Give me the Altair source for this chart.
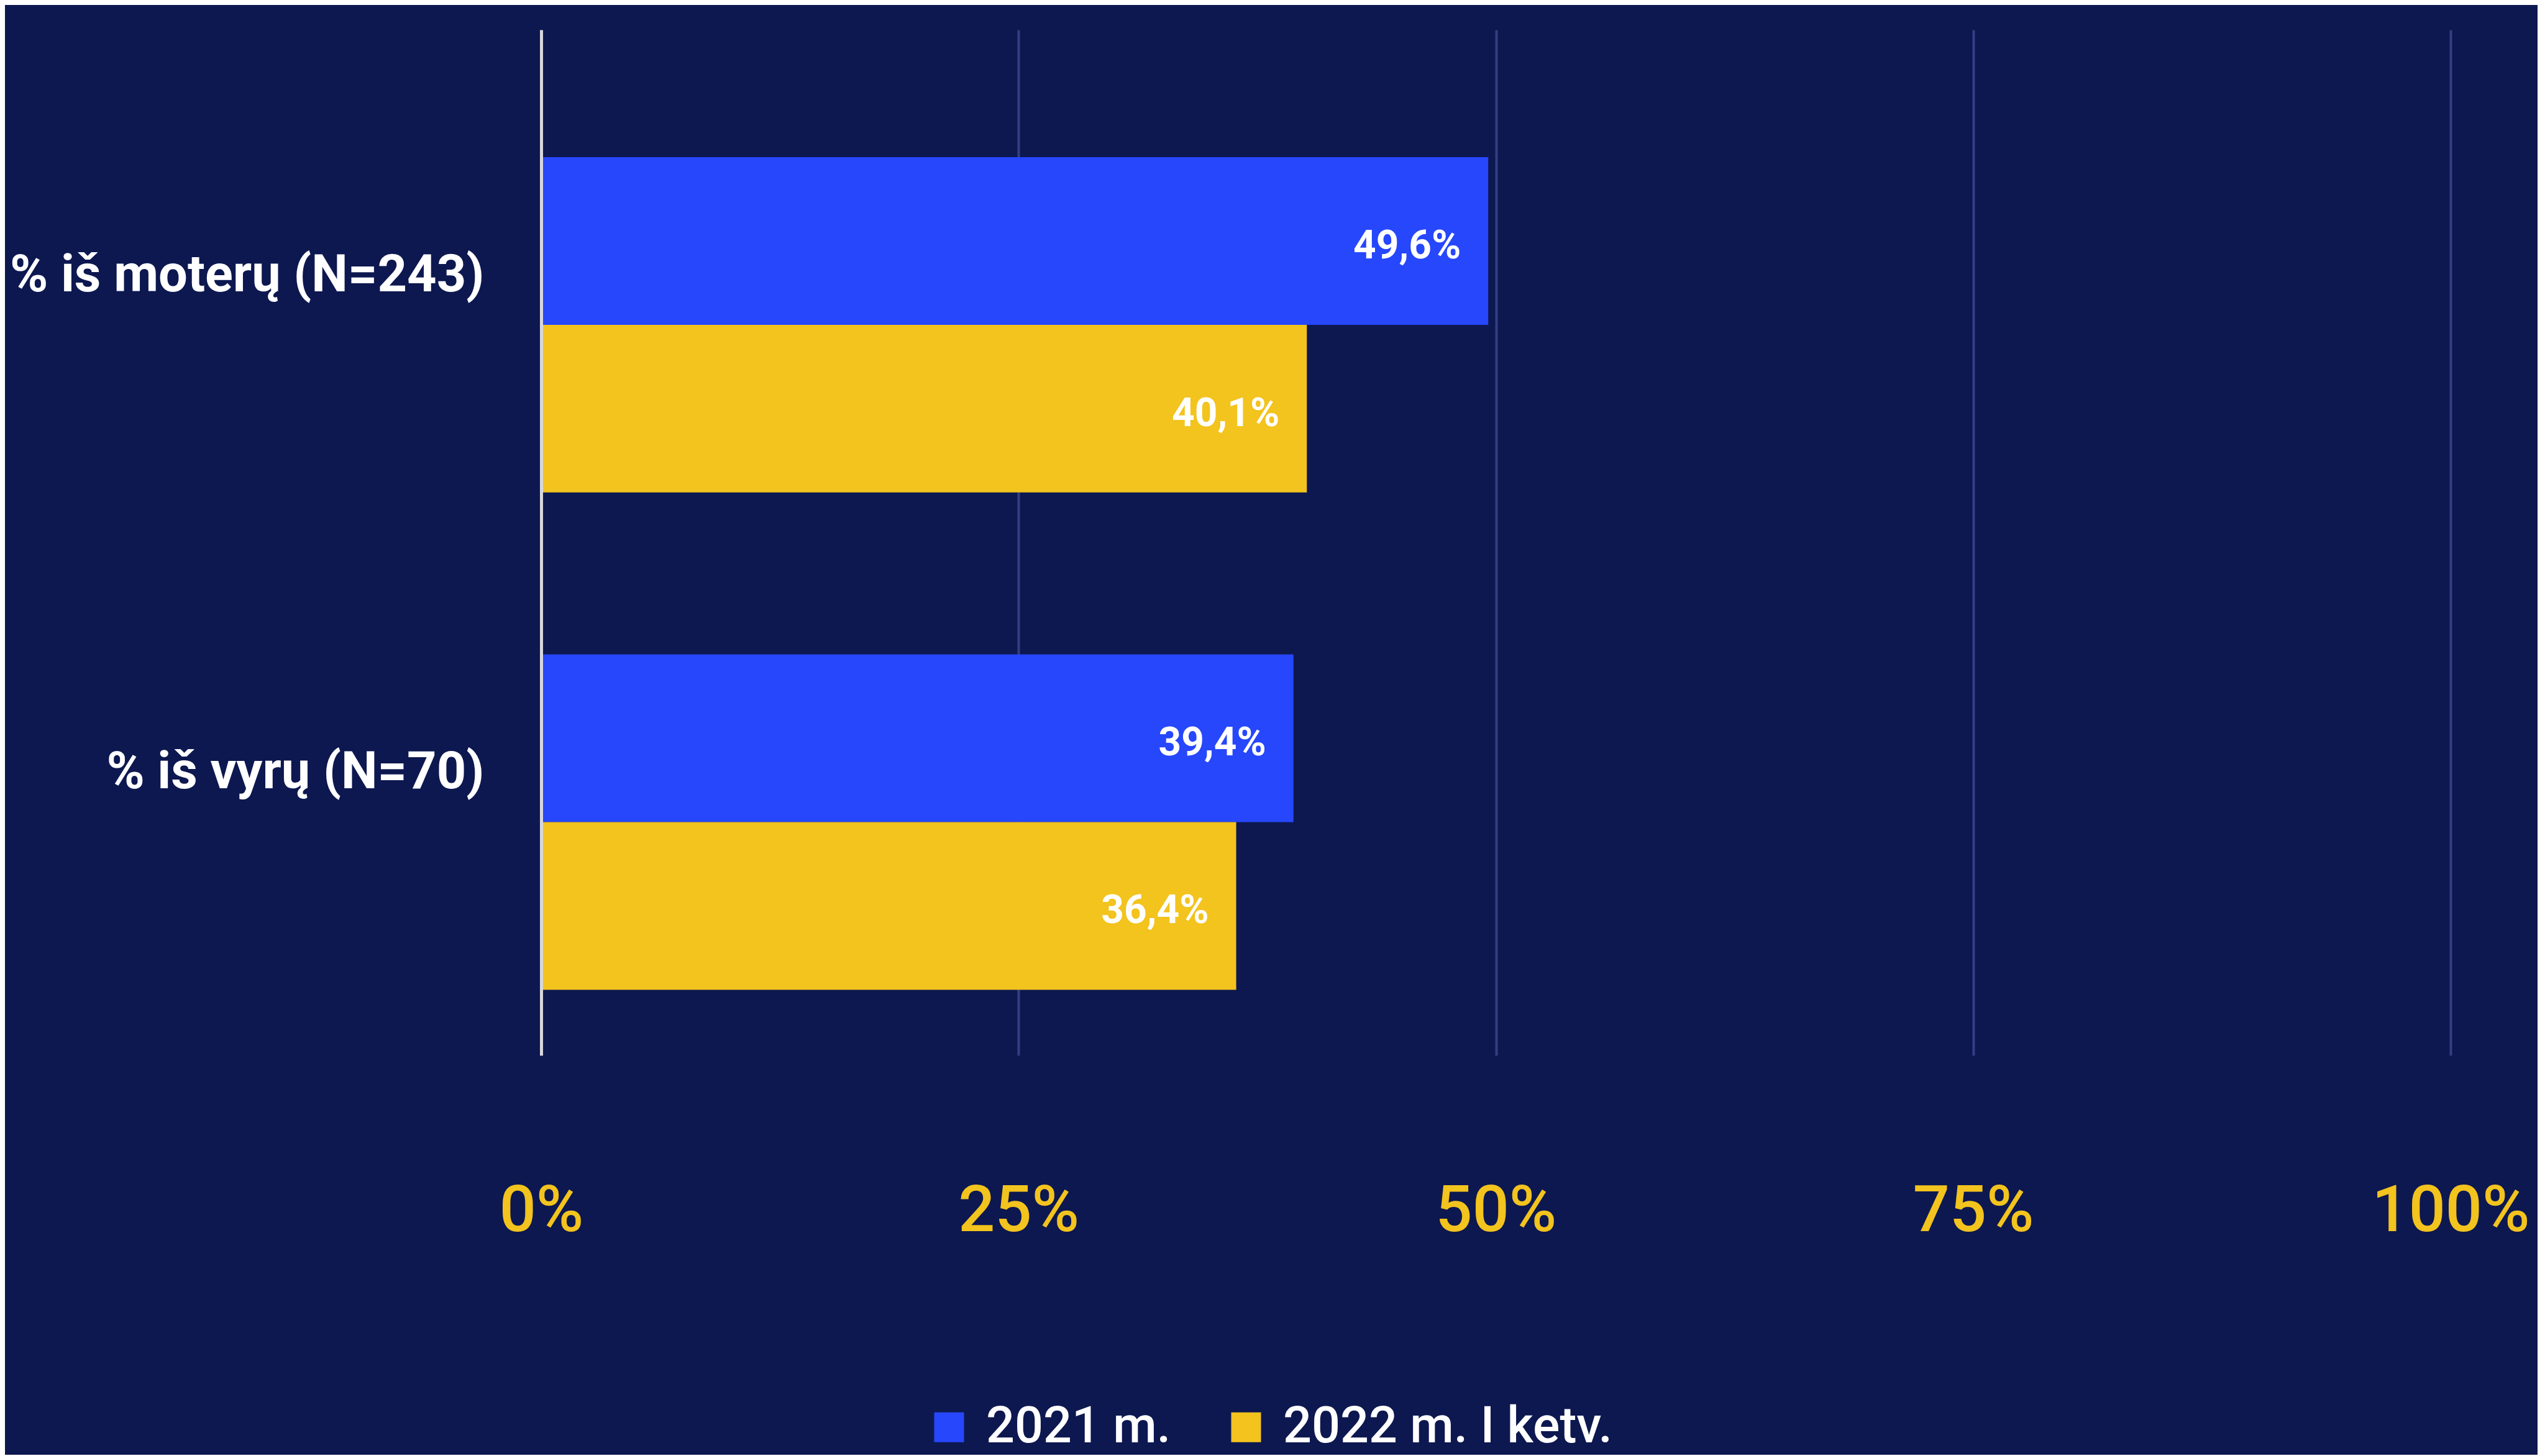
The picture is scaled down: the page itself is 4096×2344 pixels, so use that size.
import altair as alt
import pandas as pd

# ---- data ----
categories = ["% iš moterų (N=243)", "% iš vyrų (N=70)"]
series = ["2021 m.", "2022 m. I ketv."]
values_2021 = [49.6, 39.4]
values_2022 = [40.1, 36.4]
x_ticks = [0, 25, 50, 75, 100]
colors = ["#2647fc", "#f3c31e"]

rows = []
for s, vals in zip(series, [values_2021, values_2022]):
    for c, v in zip(categories, vals):
        rows.append({
            "cat": c,
            "series": s,
            "value": v,
            "label": f"{v:.1f}".replace(".", ",") + "%",
        })
df = pd.DataFrame(rows)

FONT = "Roboto"
W, H = 3073, 1651

y_scale = alt.Scale(paddingInner=0.3256, paddingOuter=0.194, align=0.66)
yoff_scale = alt.Scale(paddingInner=0, paddingOuter=0)

y_enc = alt.Y(
    "cat:N",
    sort=categories,
    scale=y_scale,
    axis=alt.Axis(
        title=None,
        domain=True,
        domainColor="#d6d6de",
        domainWidth=5,
        ticks=False,
        tickSize=0,
        grid=False,
        labelPadding=92,
        labelOffset=-79,
        labelFont=FONT,
        labelFontSize=83,
        labelFontWeight="bold",
        labelColor="#ffffff",
        labelLimit=2000,
        zindex=1,
    ),
)

x_enc = alt.X(
    "value:Q",
    scale=alt.Scale(domain=[0, 100], nice=False, zero=True),
    axis=alt.Axis(
        title=None,
        values=x_ticks,
        labelExpr="datum.value + '%'",
        domain=False,
        ticks=False,
        tickSize=0,
        labelPadding=282,
        labelBaseline="alphabetic",
        labelFlush=False,
        labelOverlap=False,
        labelLimit=2000,
        labelFont=FONT,
        labelFontSize=104,
        labelFontWeight=500,
        labelColor="#f3c31e",
        grid=True,
        gridColor="#323f84",
        gridWidth=4,
    ),
)

color_enc = alt.Color(
    "series:N",
    sort=series,
    scale=alt.Scale(domain=series, range=colors),
    legend=alt.Legend(
        title=None,
        orient="none",
        legendX=616,
        legendY=2209,
        direction="horizontal",
        columns=2,
        symbolType="square",
        symbolSize=2304,
        symbolStrokeWidth=0,
        symbolOpacity=1,
        labelFont=FONT,
        labelFontSize=81,
        labelFontWeight=500,
        labelColor="#ffffff",
        labelOffset=19,
        columnPadding=80,
        padding=0,
        labelLimit=2000,
    ),
)

bars = alt.Chart(df).mark_bar().encode(
    x=x_enc,
    y=y_enc,
    yOffset=alt.YOffset("series:N", sort=series, scale=yoff_scale),
    color=color_enc,
)

text = alt.Chart(df).mark_text(
    align="right",
    baseline="middle",
    dx=-44,
    dy=9,
    font=FONT,
    fontSize=64,
    fontWeight="bold",
    color="#ffffff",
).encode(
    x="value:Q",
    y=alt.Y("cat:N", sort=categories),
    yOffset=alt.YOffset("series:N", sort=series),
    text="label:N",
)

chart = (
    alt.layer(bars, text)
    .properties(
        width=W,
        height=H,
        autosize=alt.AutoSizeParams(type="none"),
        padding={"left": 863, "top": 40, "right": 140, "bottom": 643},
        background="#0d1850",
    )
    .configure_view(stroke="transparent")
)

chart.save("out.html", embed_options={"renderer": "svg", "actions": False})
